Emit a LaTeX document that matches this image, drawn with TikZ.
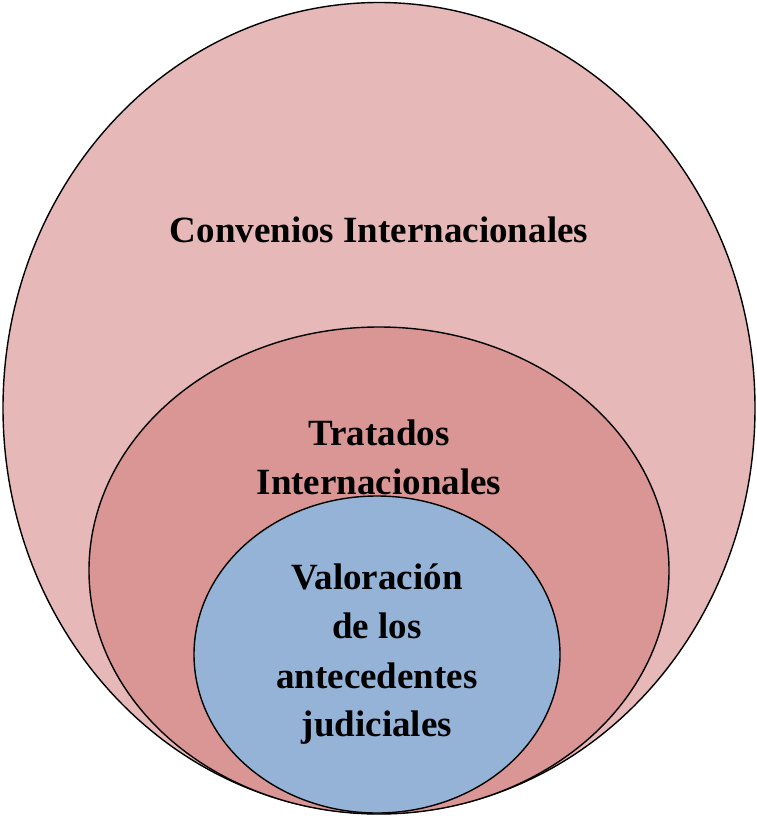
\documentclass[tikz,border=0pt]{standalone}
\usepackage{fontspec}
\setmainfont{Liberation Serif}
\usetikzlibrary{shapes.geometric}
\definecolor{outerc}{HTML}{E6B8B7}
\definecolor{midc}{HTML}{DA9694}
\definecolor{innerc}{HTML}{95B3D7}
\begin{document}
\begin{tikzpicture}[x=1pt,y=-1pt,
  ring/.style={ellipse,draw=black,line width=1.4pt,inner sep=0pt,outer sep=0pt},
  lbl/.style={anchor=base,inner sep=0pt,font=\fontsize{37}{49}\selectfont\bfseries}]
\useasboundingbox (0,0) rectangle (756,816);
\node[ring,fill=outerc,minimum width=752pt,minimum height=811pt] (outer) at (379,408) {};
\node[ring,fill=midc,minimum width=580pt,minimum height=487pt] (middle) at (379,570.5) {};
\node[ring,fill=innerc,minimum width=366pt,minimum height=317pt] (inner) at (377,654.5) {};
\node[lbl] (conv) at (379,242) {Convenios Internacionales};
\node[lbl] (trat1) at (379,445) {Tratados};
\node[lbl] (trat2) at (379,494) {Internacionales};
\node[lbl] (val1) at (377,589) {Valoración};
\node[lbl] (val2) at (377,638) {de los};
\node[lbl] (val3) at (377,688) {antecedentes};
\node[lbl] (val4) at (377,736) {judiciales};
\end{tikzpicture}
\end{document}
